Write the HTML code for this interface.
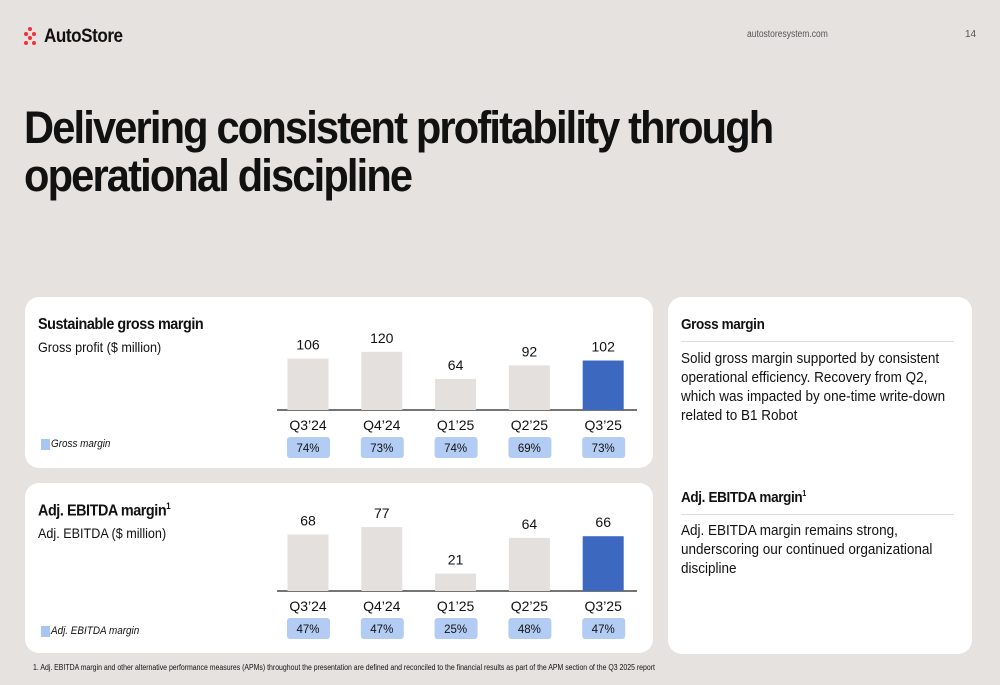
<!DOCTYPE html>
<html><head><meta charset="utf-8"><style>
body{margin:0;width:1000px;height:685px;background:#e6e2df;font-family:"Liberation Sans",sans-serif;position:relative;overflow:hidden;color:#111}
.abs{position:absolute}
.card{position:absolute;background:#fff;border-radius:14px}
.t{position:absolute;white-space:nowrap;transform-origin:left top}
.sx{transform:scaleX(0.9);transform-origin:left top}
</style></head><body>
<div class="abs" style="left:24px;top:26px">
<svg width="16" height="20"><g fill="#f0313a"><circle cx="6" cy="3" r="2"/><circle cx="2" cy="8" r="2"/><circle cx="10" cy="8" r="2"/><circle cx="6" cy="12" r="2"/><circle cx="2" cy="17" r="2"/><circle cx="10" cy="17" r="2"/></g></svg>
<span class="t" style="left:20px;top:0px;font-size:19px;font-weight:bold;letter-spacing:-0.5px;transform:scaleX(0.9)">AutoStore</span></div>
<div class="t" style="left:747px;top:29px;font-size:10px;color:#555;transform:scaleX(0.85)">autostoresystem.com</div>
<div class="t" style="left:965px;top:29px;font-size:10px;color:#555">14</div>
<div class="t" style="left:24px;top:104px;font-size:45px;font-weight:bold;letter-spacing:-2px;line-height:48px;transform:scaleX(0.925)">Delivering consistent profitability through<br>operational discipline</div>

<div class="card" style="left:25px;top:297px;width:628px;height:171px"></div>
<div class="card" style="left:25px;top:483px;width:628px;height:170px"></div>
<div class="card" style="left:668px;top:297px;width:304px;height:357px"></div>

<div class="t sx" style="left:38px;top:316px;font-size:16px;font-weight:bold;letter-spacing:-0.5px">Sustainable gross margin</div>
<div class="t sx" style="left:38px;top:339px;font-size:14px">Gross profit ($ million)</div>
<div class="abs" style="left:41px;top:439px;width:9px;height:11px;background:#a9c5f1"></div>
<div class="t sx" style="left:51px;top:438px;font-size:11px;font-style:italic">Gross margin</div>

<div class="t sx" style="left:38px;top:501px;font-size:16px;font-weight:bold;letter-spacing:-0.5px">Adj. EBITDA margin<sup style="font-size:9px">1</sup></div>
<div class="t sx" style="left:38px;top:525px;font-size:14px">Adj. EBITDA ($ million)</div>
<div class="abs" style="left:41px;top:626px;width:9px;height:11px;background:#a9c5f1"></div>
<div class="t sx" style="left:51px;top:625px;font-size:11px;font-style:italic">Adj. EBITDA margin</div>

<div class="t sx" style="left:681px;top:316px;font-size:15px;font-weight:bold;letter-spacing:-0.4px">Gross margin</div>
<div class="abs" style="left:681px;top:341px;width:273px;height:1px;background:#ddd"></div>
<div class="abs sx" style="left:681px;top:349px;width:300px;font-size:15px;line-height:19px">Solid gross margin supported by consistent operational efficiency. Recovery from Q2, which was impacted by one-time write-down related to B1 Robot</div>
<div class="t sx" style="left:681px;top:489px;font-size:15px;font-weight:bold;letter-spacing:-0.4px">Adj. EBITDA margin<sup style="font-size:8px">1</sup></div>
<div class="abs" style="left:681px;top:514px;width:273px;height:1px;background:#ddd"></div>
<div class="abs sx" style="left:681px;top:521px;width:300px;font-size:15px;line-height:19px">Adj. EBITDA margin remains strong, underscoring our continued organizational discipline</div>

<div class="t" style="left:33px;top:663px;font-size:8px;transform:scaleX(0.866)">1. Adj. EBITDA margin and other alternative performance measures (APMs) throughout the presentation are defined and reconciled to the financial results as part of the APM section of the Q3 2025 report</div>

<svg id="ch" class="abs" style="left:0;top:0" width="1000" height="685"></svg>
<script>
const categories=["Q3’24","Q4’24","Q1’25","Q2’25","Q3’25"];
const grossProfit=[106,120,64,92,102];
const grossMargin=["74%","73%","74%","69%","73%"];
const ebitda=[68,77,21,64,66];
const ebitdaMargin=["47%","47%","25%","48%","47%"];
const svg=document.getElementById('ch');
const NS='http://www.w3.org/2000/svg';
function mk(tag,attrs,txt){const e=document.createElementNS(NS,tag);for(const k in attrs)e.setAttribute(k,attrs[k]);if(txt!==undefined)e.textContent=txt;svg.appendChild(e);return e;}
function xc(i){return 308+i*73.8;}
function drawChart(prefix,vals,margins,base,scale){
  const y=v=>base-v*scale;
  const ax=mk('line',{x1:277,x2:637,y1:base,y2:base,stroke:'#222','stroke-width':1.2});
  
  
  vals.forEach((v,i)=>{
    const last=i===vals.length-1;
    const r=mk('rect',{x:xc(i)-20.5,y:y(v),width:41,height:base-y(v),fill:last?'#3d68c0':'#e4e0dd'});
    
    
    const t=mk('text',{x:xc(i),y:y(v)-9,'text-anchor':'middle','font-size':14,fill:'#111'},v);
    
    
    const c=mk('text',{x:xc(i),y:base+20,'text-anchor':'middle','font-size':14,fill:'#111'},categories[i]);
    
    
    const p=mk('rect',{x:xc(i)-21,y:base+27,width:43,height:21,rx:3,fill:'#b3ccf3'});
    
    
    const pt=mk('text',{x:xc(i),y:base+42,'text-anchor':'middle','font-size':11.5,fill:'#111'},margins[i]);
    
    
  });
}
drawChart('gross',grossProfit,grossMargin,410,0.485);
drawChart('ebitda',ebitda,ebitdaMargin,591,0.83);
</script>
</body></html>
